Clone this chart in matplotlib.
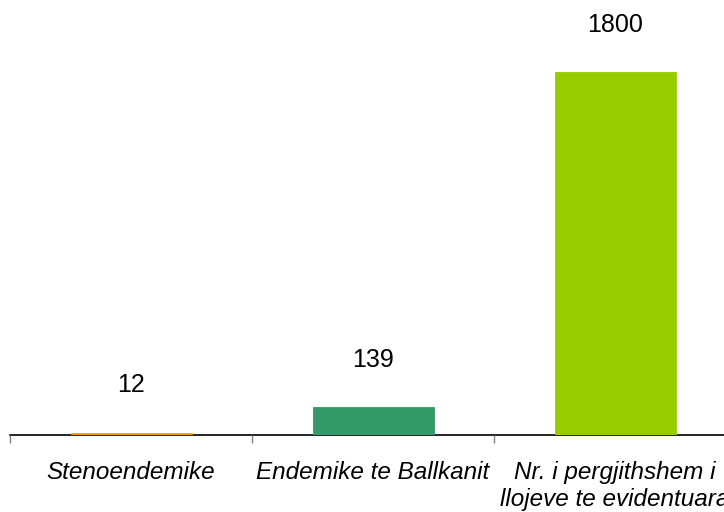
import matplotlib
matplotlib.use("Agg")
import matplotlib.pyplot as plt

categories = ["Stenoendemike", "Endemike te Ballkanit", "Nr. i pergjithshem i\nllojeve te evidentuara"]
values = [12, 139, 1800]
colors = ["#FF9900", "#339966", "#99CC00"]

W, H = 724, 512
fig = plt.figure(figsize=(W/100, H/100), dpi=100)
left = 10/W
right = 736/W
bottom = (H-435)/H
ax = fig.add_axes([left, bottom, right-left, 435/H])
x = list(range(len(categories)))
ax.bar(x, values, width=0.5, color=colors, edgecolor=colors, linewidth=0.6, zorder=3)
ax.set_xlim(-0.5, 2.5)
ax.set_ylim(0, 435/0.2017)
for s in ["top", "right", "left"]:
    ax.spines[s].set_visible(False)
ax.spines["bottom"].set_color("black")
ax.spines["bottom"].set_linewidth(1.2)
ax.spines["bottom"].set_zorder(1)
ax.set_yticks([])
ax.set_xticks([-0.5, 0.5, 1.5, 2.5])
ax.set_xticklabels([])
ax.tick_params(axis="x", length=6, color="#808080", width=1)
ax.set_xticks(x, minor=True)
ax.set_xticklabels(categories, minor=True, fontsize=17.5, fontstyle="italic",
                   family="Liberation Sans", linespacing=1.2)
ax.tick_params(axis="x", which="minor", length=0, pad=19)
for xi, v in zip(x, values):
    ax.annotate(str(v), (xi, v), xytext=(0, 25.5), textcoords="offset points",
                ha="center", va="bottom", fontsize=18, family="Liberation Sans")
fig.savefig("out.png", dpi=100)
